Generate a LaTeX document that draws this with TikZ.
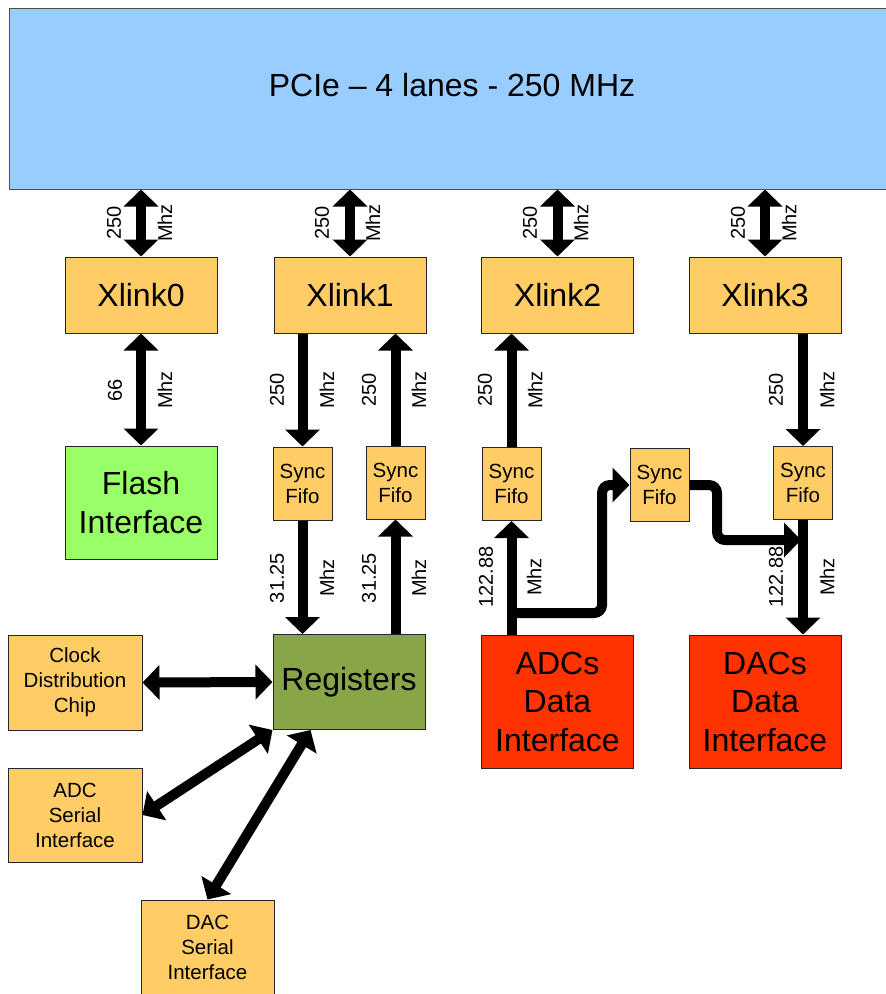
\documentclass[tikz,border=0pt]{standalone}
\usepackage{fontspec}
\setmainfont{Liberation Sans}
\usetikzlibrary{arrows.meta,calc}
\definecolor{pcieblue}{HTML}{99CCFF}
\definecolor{blockorange}{HTML}{FFCC66}
\definecolor{flashgreen}{HTML}{99FF66}
\definecolor{reggreen}{HTML}{88A548}
\definecolor{datared}{HTML}{FF3300}
\begin{document}
\begin{tikzpicture}[x=1pt,y=-1pt,
  box/.style={draw=black!85, line width=1pt, inner sep=0pt, align=center, text=black},
  big/.style={font=\fontsize{32}{38.5}\selectfont},
  small/.style={font=\fontsize{20.5}{25}\selectfont},
  lbl/.style={rotate=90, font=\fontsize{20}{24}\selectfont, inner sep=0pt},
  tipA/.tip={Triangle[width=34pt,length=17pt]},
  flow/.style={line width=10pt, -tipA},
  both/.style={line width=10pt, tipA-tipA},
  xlink/.style={box, big, fill=blockorange, minimum width=152pt, minimum height=76pt},
  fifo/.style={box, small, fill=blockorange, minimum width=59pt, minimum height=73pt},
  side/.style={box, small, fill=blockorange, minimum width=134pt, minimum height=95pt},
  data/.style={box, big, fill=datared, minimum width=152pt, minimum height=133pt}]
\clip (0,0) rectangle (886,994);
\useasboundingbox (0,0) rectangle (886,994);

% host interface
\node[box, fill=pcieblue, draw=black!70, minimum width=886pt, minimum height=181pt] (pcie) at (452,98.5) {};
\node[font=\fontsize{32}{38}\selectfont] (pcietxt) at (452,85) {PCIe – 4 lanes - 250 MHz};

% link blocks
\node[xlink] (x0) at (141,295) {Xlink0};
\node[xlink] (x1) at (350,295) {Xlink1};
\node[xlink] (x2) at (557.5,295) {Xlink2};
\node[xlink] (x3) at (765,295) {Xlink3};

% flash and synchronisation FIFOs
\node[box, big, fill=flashgreen, minimum width=152pt, minimum height=113pt] (flash) at (141,502.5) {Flash\\Interface};
\node[fifo] (f1) at (302.5,483.5) {Sync\\Fifo};
\node[fifo] (f2) at (395.5,482.5) {Sync\\Fifo};
\node[fifo] (f3) at (511.5,484) {Sync\\Fifo};
\node[fifo] (fm) at (659.5,485) {Sync\\Fifo};
\node[fifo] (f4) at (803,483) {Sync\\Fifo};

% register block and peripherals
\node[box, big, fill=reggreen, minimum width=152pt, minimum height=95pt] (reg) at (349,682) {Registers};
\node[side] (clk) at (75,682.5) {Clock\\Distribution\\Chip};
\node[side, minimum height=94pt] (adcs) at (75,815) {ADC\\Serial\\Interface};
\node[side, minimum width=133pt, minimum height=94pt] (dacs) at (207.5,947) {DAC\\Serial\\Interface};

% data converters
\node[data] (adc) at (557.5,701.5) {ADCs\\Data\\Interface};
\node[data] (dac) at (765,701.5) {DACs\\Data\\Interface};

% PCIe <-> Xlink
\foreach \n in {x0,x1,x2,x3}
  \draw[both] (pcie.south -| \n.north) -- (\n.north);
\node[lbl] (t0a) at (114,223) {250};  \node[lbl] (t0b) at (165,223) {Mhz};
\node[lbl] (t1a) at (322,223) {250};  \node[lbl] (t1b) at (373,223) {Mhz};
\node[lbl] (t2a) at (530,223) {250};  \node[lbl] (t2b) at (581,223) {Mhz};
\node[lbl] (t3a) at (738,223) {250};  \node[lbl] (t3b) at (789,223) {Mhz};

% Xlink <-> flash / FIFOs
\draw[both] (x0.south) -- (flash.north);
\draw[flow] (f1.north |- x1.south) -- (f1.north);
\draw[flow] (f2.north) -- (f2.north |- x1.south);
\draw[flow] (f3.north) -- (f3.north |- x2.south);
\draw[flow] (f4.north |- x3.south) -- (f4.north);
\node[lbl] (m0a) at (115,390) {66};   \node[lbl] (m0b) at (165,390) {Mhz};
\node[lbl] (m1a) at (277,390) {250};  \node[lbl] (m1b) at (327,390) {Mhz};
\node[lbl] (m2a) at (369,390) {250};  \node[lbl] (m2b) at (419,390) {Mhz};
\node[lbl] (m3a) at (485,390) {250};  \node[lbl] (m3b) at (535,390) {Mhz};
\node[lbl] (m4a) at (776,390) {250};  \node[lbl] (m4b) at (827,390) {Mhz};

% FIFOs <-> registers and converters
\draw[flow] (f1.south) -- (f1.south |- reg.north);
\draw[flow] (f2.south |- reg.north) -- (f2.south);
\draw[flow] (adc.north -| f3.south) -- (f3.south);
\draw[flow] (f4.south) -- (f4.south |- dac.north);
\node[lbl] (b1a) at (277,578) {31.25};  \node[lbl] (b1b) at (327,578) {Mhz};
\node[lbl] (b2a) at (369,578) {31.25};  \node[lbl] (b2b) at (419,578) {Mhz};
\node[lbl] (b3a) at (486,577) {122.88}; \node[lbl] (b3b) at (534,577) {Mhz};
\node[lbl] (b4a) at (776,577) {122.88}; \node[lbl] (b4b) at (827,577) {Mhz};

% ADC loop-back path through the middle FIFO
\coordinate (split) at (f3.south |- 0,613);
\coordinate (join) at (801,540);
\draw[flow, rounded corners=8pt] (split) -- (602,613) -- (602,485) -- (fm.west);
\draw[flow, rounded corners=8pt] (fm.east) -- (717,485) -- (717,540) -- (join);

% register peripherals
\draw[both] (clk.east) -- (reg.west);
\draw[both] (adcs.east) -- (reg.south west);
\draw[both] (dacs.north) -- ([xshift=38pt]reg.south west);
\end{tikzpicture}
\end{document}
